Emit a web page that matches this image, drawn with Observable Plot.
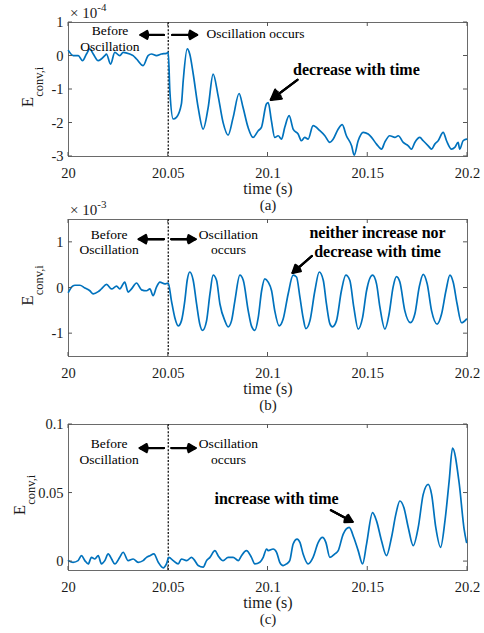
<!DOCTYPE html>
<html><head><meta charset="utf-8">
<script src="https://cdn.jsdelivr.net/npm/d3@7"></script>
<script src="https://cdn.jsdelivr.net/npm/@observablehq/plot@0.6"></script>
<style>
body{margin:0;background:#fff;}
#wrap{position:relative;width:484px;height:633px;font-family:"Liberation Serif","Times New Roman",serif;}
#wrap svg{position:absolute;left:0;overflow:visible;}
</style></head><body><div id="wrap"></div>
<script>
// x axis (time, s)
const xTicks = [20, 20.05, 20.1, 20.15, 20.2];
const xTickLabels = ["20", "20.05", "20.1", "20.15", "20.2"];
const onsetTime = [20.05];

// Panel (a): values in units of 1e-4
const timeA = [20.0000,20.0024,20.0049,20.0070,20.0090,20.0107,20.0124,20.0149,20.0182,20.0190,20.0211,20.0232,20.0257,20.0274,20.0307,20.0324,20.0341,20.0374,20.0399,20.0416,20.0441,20.0466,20.0491,20.0500,20.0508,20.0525,20.0541,20.0566,20.0575,20.0595,20.0608,20.0625,20.0650,20.0675,20.0700,20.0725,20.0750,20.0775,20.0800,20.0825,20.0855,20.0875,20.0900,20.0925,20.0951,20.0967,20.0992,20.1001,20.1017,20.1034,20.1051,20.1068,20.1084,20.1106,20.1126,20.1151,20.1168,20.1184,20.1201,20.1226,20.1260,20.1285,20.1310,20.1327,20.1352,20.1372,20.1393,20.1419,20.1432,20.1452,20.1477,20.1502,20.1519,20.1544,20.1569,20.1585,20.1610,20.1636,20.1653,20.1678,20.1703,20.1719,20.1736,20.1761,20.1778,20.1803,20.1820,20.1836,20.1853,20.1878,20.1895,20.1920,20.1936,20.1953,20.1961,20.1978,20.1995];
const valueA = [0.16,0.01,0.01,-0.14,0.06,0.21,0.06,-0.14,0.01,0.06,-0.24,0.11,0.01,0.11,0.06,0.01,-0.09,-0.29,0.01,0.06,0.01,0.06,0.08,0.11,-1.04,-1.88,-1.83,-1.43,-0.74,0.21,0.05,-0.53,-1.54,-2.18,-1.54,-0.54,-1.19,-1.99,-2.36,-1.84,-1.12,-1.54,-2.13,-2.43,-2.23,-2.13,-1.43,-1.39,-1.93,-2.43,-2.38,-2.48,-2.13,-1.78,-2.18,-2.33,-2.53,-2.43,-2.48,-2.08,-2.23,-2.38,-2.58,-2.48,-2.18,-2.05,-2.38,-2.68,-2.96,-2.53,-2.28,-2.33,-2.43,-2.63,-2.78,-2.58,-2.38,-2.43,-2.38,-2.58,-2.68,-2.78,-2.58,-2.43,-2.53,-2.68,-2.78,-2.63,-2.53,-2.28,-2.53,-2.78,-2.73,-2.58,-2.78,-2.53,-2.48];
const yTicksA = [-3, -2, -1, 0, 1];
const yTickLabelsA = ["-3", "-2", "-1", "0", "1"];

// Panel (b): values in units of 1e-3
const timeB = [20.0000,20.0015,20.0032,20.0057,20.0082,20.0107,20.0124,20.0149,20.0165,20.0191,20.0216,20.0241,20.0257,20.0282,20.0299,20.0316,20.0341,20.0366,20.0391,20.0408,20.0424,20.0441,20.0458,20.0483,20.0500,20.0516,20.0533,20.0550,20.0566,20.0583,20.0595,20.0608,20.0625,20.0642,20.0658,20.0672,20.0692,20.0709,20.0725,20.0742,20.0759,20.0784,20.0800,20.0817,20.0834,20.0859,20.0876,20.0901,20.0917,20.0934,20.0951,20.0968,20.0984,20.1001,20.1018,20.1034,20.1056,20.1076,20.1101,20.1126,20.1143,20.1160,20.1176,20.1190,20.1210,20.1235,20.1257,20.1277,20.1293,20.1310,20.1323,20.1343,20.1368,20.1390,20.1410,20.1430,20.1452,20.1474,20.1494,20.1524,20.1544,20.1561,20.1586,20.1607,20.1627,20.1644,20.1661,20.1686,20.1714,20.1736,20.1758,20.1778,20.1798,20.1820,20.1848,20.1870,20.1892,20.1912,20.1928,20.1948,20.1970,20.1995];
const valueB = [-0.09,0.02,0.06,0.06,0.00,-0.06,-0.13,-0.08,-0.02,0.08,-0.02,0.04,-0.02,0.13,-0.09,-0.02,0.11,-0.04,-0.06,-0.02,-0.17,0.02,0.13,0.09,0.11,-0.28,-0.65,-0.83,-0.72,-0.28,0.17,0.35,0.17,-0.35,-0.79,-0.93,-0.72,-0.13,0.28,0.17,-0.35,-0.72,-0.85,-0.72,-0.28,0.28,0.17,-0.50,-0.83,-0.93,-0.65,-0.06,0.20,0.13,-0.06,-0.50,-0.83,-0.68,-0.13,0.28,0.24,-0.20,-0.65,-0.89,-0.72,-0.06,0.35,0.17,-0.35,-0.78,-0.85,-0.72,-0.06,0.28,0.17,-0.42,-0.90,-0.65,-0.06,0.28,0.09,-0.42,-0.90,-0.57,0.02,0.25,0.13,-0.50,-0.76,-0.57,0.02,0.30,0.09,-0.50,-0.79,-0.57,-0.06,0.28,0.13,-0.35,-0.76,-0.68];
const yTicksB = [-1, 0, 1];
const yTickLabelsB = ["-1", "0", "1"];

// Panel (c): absolute values
const timeC = [20.0000,20.0023,20.0048,20.0065,20.0082,20.0099,20.0115,20.0132,20.0149,20.0165,20.0182,20.0199,20.0216,20.0232,20.0257,20.0274,20.0299,20.0324,20.0349,20.0374,20.0391,20.0408,20.0428,20.0450,20.0475,20.0491,20.0503,20.0525,20.0550,20.0566,20.0592,20.0617,20.0633,20.0650,20.0675,20.0692,20.0709,20.0734,20.0750,20.0775,20.0800,20.0825,20.0851,20.0867,20.0892,20.0917,20.0934,20.0959,20.0976,20.0993,20.1001,20.1026,20.1043,20.1059,20.1076,20.1093,20.1109,20.1126,20.1146,20.1160,20.1176,20.1201,20.1226,20.1252,20.1273,20.1290,20.1310,20.1335,20.1352,20.1377,20.1407,20.1430,20.1452,20.1474,20.1494,20.1524,20.1544,20.1569,20.1594,20.1619,20.1641,20.1661,20.1681,20.1703,20.1728,20.1753,20.1778,20.1803,20.1820,20.1841,20.1865,20.1887,20.1908,20.1925,20.1958,20.1983,20.1995];
const valueC = [0.0007,-0.0005,0.0007,0.0043,0.0007,-0.0017,0.0031,0.0019,0.0043,-0.0017,0.0007,0.0056,0.0019,-0.0017,0.0031,0.0068,0.0007,0.0019,-0.0005,0.0007,0.0031,0.0043,0.0056,-0.0005,-0.0046,-0.0017,0.0031,0.0007,-0.0017,0.0019,0.0007,0.0031,0.0007,-0.0029,-0.0041,0.0007,0.0031,0.0080,0.0043,0.0007,0.0031,0.0031,0.0007,0.0043,0.0080,0.0031,-0.0017,-0.0005,0.0031,0.0092,0.0080,0.0092,0.0068,-0.0005,-0.0029,-0.0017,0.0007,0.0128,0.0164,0.0140,0.0056,-0.0017,0.0031,0.0140,0.0176,0.0140,0.0031,0.0056,0.0080,0.0201,0.0249,0.0176,0.0080,-0.0017,0.0128,0.0357,0.0297,0.0152,0.0043,0.0176,0.0346,0.0442,0.0394,0.0249,0.0116,0.0249,0.0490,0.0563,0.0490,0.0249,0.0104,0.0297,0.0587,0.0828,0.0575,0.0237,0.0140];
const yTicksC = [0, 0.05, 0.1];
const yTickLabelsC = ["0", "0.05", "0.1"];

// Annotations (data coordinates of each panel)
const notesA = [{x: 20.0208, y: 0.55, text: "Before\nOscillation"}];
const notesStartA = [{x: 20.0692, y: 0.66, text: "Oscillation occurs"}];
const boldA = [{x: 20.1443, y: -0.39, text: "decrease with time"}];
const arrowsA = [{x1: 20.0478, y1: 0.63, x2: 20.0361, y2: 0.63}, {x1: 20.0520, y1: 0.63, x2: 20.0645, y2: 0.63}, {x1: 20.1148, y1: -0.71, x2: 20.1014, y2: -1.31}];

const notesB = [{x: 20.0204, y: 1.02, text: "Before\nOscillation"}, {x: 20.0802, y: 1.02, text: "Oscillation\noccurs"}];
const boldB = [{x: 20.1549, y: 1.02, text: "neither increase nor\ndecrease with time"}];
const arrowsB = [{x1: 20.0478, y1: 1.07, x2: 20.0352, y2: 1.07}, {x1: 20.0515, y1: 1.07, x2: 20.0637, y2: 1.07}, {x1: 20.1220, y1: 0.70, x2: 20.1123, y2: 0.33}];

const notesC = [{x: 20.0204, y: 0.081, text: "Before\nOscillation"}, {x: 20.0802, y: 0.081, text: "Oscillation\noccurs"}];
const boldC = [{x: 20.1043, y: 0.0466, text: "increase with time"}];
const arrowsC = [{x1: 20.0478, y1: 0.0828, x2: 20.0357, y2: 0.0828}, {x1: 20.0516, y1: 0.0828, x2: 20.0637, y2: 0.0828}, {x1: 20.1315, y1: 0.0375, x2: 20.1424, y2: 0.029}];

const FONT = '"Liberation Serif","Times New Roman",serif';
const INK = "#1a1a1a";
const lookup = (ticks, labels) => d => labels[ticks.indexOf(d)] ?? "";

function arrowMarks(arrows) {
  // layered heads give a filled, MATLAB-like arrowhead
  return [60, 42, 24].map((a, i) => Plot.arrow(arrows, {x1: "x1", y1: "y1", x2: "x2", y2: "y2", stroke: "black",
    strokeWidth: i === 0 ? 2.2 : 2, headLength: 8, headAngle: a}));
}

function panel(o) {
  const data = o.time.map((t, i) => ({t, v: o.value[i]}));
  const svg = Plot.plot({
    width: 484, height: o.height,
    marginLeft: 68, marginRight: 17, marginTop: o.mTop, marginBottom: o.mBottom,
    style: {fontFamily: FONT, fontSize: "14.5px", color: INK, background: "transparent", overflow: "visible"},
    x: {domain: [20, 20.2]},
    y: {domain: o.yDomain},
    marks: [
      Plot.axisX({anchor: "bottom", ticks: xTicks, tickSize: 0, tickPadding: 11, tickFormat: lookup(xTicks, xTickLabels), label: null}),
      Plot.axisY({anchor: "left", ticks: o.yTicks, tickSize: 0, tickPadding: 5, tickFormat: lookup(o.yTicks, o.yTickLabels), label: null}),
      Plot.frame({stroke: "#6a6a6a"}),
      Plot.ruleX(onsetTime, {stroke: "black", strokeDasharray: "2,1.6", strokeWidth: 1.2}),
      Plot.line(data, {x: "t", y: "v", stroke: "#0072BD", strokeWidth: 1.7, curve: "monotone-x"}),
      Plot.text(o.notes, {x: "x", y: "y", text: "text", fontSize: 13.5, lineHeight: 1.18, fill: "black"}),
      Plot.text(o.notesStart || [], {x: "x", y: "y", text: "text", textAnchor: "start", fontSize: 13.5, fill: "black"}),
      Plot.text(o.bold, {x: "x", y: "y", text: "text", fontSize: 16, fontWeight: "bold", lineHeight: 1.19, fill: "black"}),
      ...arrowMarks(o.arrows),
      Plot.text(["time (s)"], {text: d => d, frameAnchor: "bottom", dy: 37, fontSize: 16, fill: INK}),
      Plot.text([o.tag], {text: d => d, frameAnchor: "bottom", dy: 53, fontSize: 15, fill: INK})
    ]
  });
  svg.style.top = o.top + "px";
  const s = d3.select(svg);
  const frameTop = o.mTop, frameBottom = o.height - o.mBottom, frameLeft = 68, frameRight = 484 - 17;
  // inner (MATLAB box) ticks on all four sides, placed through the plot's own scales
  const sx = svg.scale("x"), sy = svg.scale("y");
  const tk = s.append("g").attr("stroke", "#555").attr("stroke-width", 1);
  for (const t of xTicks) {
    const px = sx.apply(t);
    tk.append("line").attr("x1", px).attr("x2", px).attr("y1", frameBottom).attr("y2", frameBottom - 4);
    tk.append("line").attr("x1", px).attr("x2", px).attr("y1", frameTop).attr("y2", frameTop + 4);
  }
  for (const v of o.yTicks) {
    const py = sy.apply(v);
    tk.append("line").attr("y1", py).attr("y2", py).attr("x1", frameLeft).attr("x2", frameLeft + 4);
    tk.append("line").attr("y1", py).attr("y2", py).attr("x1", frameRight).attr("x2", frameRight - 4);
  }
  // y label with subscript
  const yl = s.append("text")
    .attr("transform", `translate(${frameLeft - o.ylabelGap},${(frameTop + frameBottom) / 2 - 2}) rotate(-90)`)
    .attr("text-anchor", "middle").attr("fill", INK).style("font-family", FONT);
  yl.append("tspan").attr("font-size", 17).text("E");
  yl.append("tspan").attr("font-size", 12.5).attr("dy", 10).text("conv,i");
  // exponent
  if (o.exponent) {
    const ex = s.append("text").attr("x", 70).attr("y", frameTop - 4).attr("text-anchor", "start")
      .attr("fill", INK).style("font-family", FONT).attr("font-size", 15);
    ex.append("tspan").text("\u00d7 10");
    ex.append("tspan").attr("font-size", 11).attr("dy", -7).text(o.exponent);
  }
  document.getElementById("wrap").appendChild(svg);
}

panel({time: timeA, value: valueA, yDomain: [-3, 1], yTicks: yTicksA, yTickLabels: yTickLabelsA, exponent: "-4",
  top: 0, height: 215, mTop: 22, mBottom: 59, ylabelGap: 35, tag: "(a)", notes: notesA, notesStart: notesStartA, bold: boldA, arrows: arrowsA});
panel({time: timeB, value: valueB, yDomain: [-1.5, 1.5], yTicks: yTicksB, yTickLabels: yTickLabelsB, exponent: "-3",
  top: 200, height: 215, mTop: 19, mBottom: 59, ylabelGap: 35, tag: "(b)", notes: notesB, bold: boldB, arrows: arrowsB});
panel({time: timeC, value: valueC, yDomain: [-0.0065, 0.1], yTicks: yTicksC, yTickLabels: yTickLabelsC, exponent: null,
  top: 405, height: 228, mTop: 19, mBottom: 63, ylabelGap: 43, tag: "(c)", notes: notesC, bold: boldC, arrows: arrowsC});
</script></body></html>
